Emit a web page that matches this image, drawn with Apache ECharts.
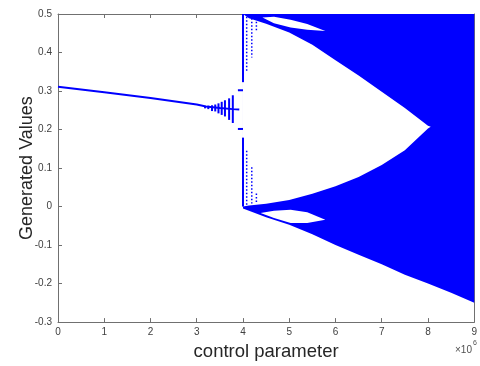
<!DOCTYPE html>
<html>
<head>
<meta charset="utf-8">
<script src="https://cdn.jsdelivr.net/npm/echarts@6/dist/echarts.min.js"></script>
<style>
html, body { margin: 0; padding: 0; background: #ffffff; }
#main { width: 480px; height: 366px; }
</style>
</head>
<body>
<div id="main"></div>
<script>
// bifurcation diagram, x values are in units of 1e6
var chart = echarts.init(document.getElementById("main"));

// stable branch (single fixed point)
var stableX = [0, 1, 2, 3, 3.2, 3.5, 3.78, 3.92];
var stableY = [0.311, 0.297, 0.282, 0.265, 0.260, 0.256, 0.253, 0.252];

// growing oscillation just before x=4
var oscX    = [3.18, 3.25, 3.33, 3.40, 3.47, 3.54, 3.61, 3.70, 3.78];
var oscHigh = [0.261, 0.262, 0.263, 0.265, 0.268, 0.272, 0.276, 0.281, 0.289];
var oscLow  = [0.255, 0.253, 0.248, 0.247, 0.242, 0.238, 0.234, 0.225, 0.217];

// two short dashes at the period-2 split
var dashX0 = [3.89, 3.89];
var dashX1 = [4.0, 4.0];
var dashY  = [0.302, 0.2015];

// solid vertical lines at x=4
var vlineX   = [4.0, 4.0];
var vlineTop = [0.5, 0.179];
var vlineBot = [0.323, 0.0];

// dotted columns right after x=4
var dotX   = [4.08, 4.19, 4.29, 4.08, 4.19, 4.29];
var dotTop = [0.493, 0.489, 0.480, 0.145, 0.102, 0.034];
var dotBot = [0.349, 0.387, 0.455, 0.0, 0.008, 0.008];

// chaotic band: from floor up to the top of the axis
var bandX     = [4.0, 4.5, 5.0, 5.5, 6.0, 6.5, 7.0, 7.5, 8.0, 8.5, 9.0];
var bandFloor = [-0.005, -0.028, -0.047, -0.072, -0.100, -0.125, -0.150, -0.177, -0.200, -0.224, -0.250];
var bandCeil  = [0.5, 0.5, 0.5, 0.5, 0.5, 0.5, 0.5, 0.5, 0.5, 0.5, 0.5];

// empty lens inside the band
var gapX   = [4.0, 4.13, 4.5, 5.0, 5.5, 6.0, 6.5, 7.0, 7.5, 8.0, 8.06];
var gapTop = [0.5, 0.489, 0.475, 0.452, 0.420, 0.380, 0.340, 0.298, 0.256, 0.210, 0.207];
var gapBot = [0.0, 0.003, 0.007, 0.017, 0.033, 0.053, 0.077, 0.108, 0.146, 0.203, 0.207];

// small empty islands (upper and lower)
var eyeUpX   = [4.42, 4.67, 5.03, 5.39, 5.78];
var eyeUpTop = [0.491, 0.493, 0.485, 0.474, 0.456];
var eyeUpBot = [0.491, 0.476, 0.465, 0.459, 0.456];
var eyeLoX   = [4.38, 4.67, 5.03, 5.39, 5.78];
var eyeLoTop = [-0.017, -0.011, -0.008, -0.015, -0.034];
var eyeLoBot = [-0.017, -0.030, -0.043, -0.043, -0.034];

var BLUE = "#0000ff";
var FONT = "Liberation Sans, Arial, Helvetica, sans-serif";

// a filled area between two curves, drawn through the axis scales
function region(xs, up, low, fill, z) {
  return {
    type: "custom",
    z: z,
    silent: true,
    clip: true,
    data: [[xs[0], up[0]]],
    renderItem: function (params, api) {
      var pts = [];
      for (var i = 0; i < xs.length; i++) pts.push(api.coord([xs[i], up[i]]));
      for (var j = xs.length - 1; j >= 0; j--) pts.push(api.coord([xs[j], low[j]]));
      return { type: "polygon", shape: { points: pts }, style: { fill: fill } };
    }
  };
}

// straight segments [x1, y1, x2, y2]
function segments(data, width, dash, z) {
  return {
    type: "custom",
    z: z,
    silent: true,
    clip: true,
    data: data,
    encode: { x: [0, 2], y: [1, 3] },
    renderItem: function (params, api) {
      var p1 = api.coord([api.value(0), api.value(1)]);
      var p2 = api.coord([api.value(2), api.value(3)]);
      var st = { stroke: BLUE, lineWidth: width };
      if (dash) st.lineDash = dash;
      return { type: "line", shape: { x1: p1[0], y1: p1[1], x2: p2[0], y2: p2[1] }, style: st };
    }
  };
}

var oscData = oscX.map(function (x, i) { return [x, oscLow[i], x, oscHigh[i]]; });
var dashData = dashY.map(function (y, i) { return [dashX0[i], y, dashX1[i], y]; });
var vlineData = vlineX.map(function (x, i) { return [x, vlineTop[i], x, vlineBot[i]]; });
var dotData = dotX.map(function (x, i) { return [x, dotTop[i], x, dotBot[i]]; });

var axisCommon = {
  type: "value",
  axisLine: { show: true, onZero: false, lineStyle: { color: "#707070", width: 1 } },
  axisTick: { show: true, inside: true, length: 4, lineStyle: { color: "#707070" } },
  splitLine: { show: false }
};

var option = {
  animation: false,
  backgroundColor: "#ffffff",
  grid: { left: 58, right: 4, top: 14, bottom: 39, show: false },
  xAxis: [
    Object.assign({}, axisCommon, {
      min: 0, max: 9, interval: 1, position: "bottom",
      axisLabel: { color: "#404040", fontSize: 10, fontFamily: FONT, margin: 5 },
      name: "control parameter",
      nameLocation: "middle",
      nameGap: 19,
      nameTextStyle: { color: "#262626", fontSize: 18.5, fontFamily: FONT }
    }),
    Object.assign({}, axisCommon, {
      min: 0, max: 9, interval: 1, position: "top",
      axisLabel: { show: false }
    })
  ],
  yAxis: [
    Object.assign({}, axisCommon, {
      min: -0.3, max: 0.5, interval: 0.1, position: "left",
      axisLabel: { color: "#404040", fontSize: 10, fontFamily: FONT, margin: 6 },
      name: "Generated Values",
      nameLocation: "middle",
      nameGap: 22,
      nameMoveOverlap: false,
      nameTextStyle: { color: "#262626", fontSize: 18, fontFamily: FONT }
    }),
    Object.assign({}, axisCommon, {
      min: -0.3, max: 0.5, interval: 0.1, position: "right",
      axisLabel: { show: false }
    })
  ],
  graphic: [
    { type: "text", left: 455, top: 345, style: { text: "×10", fontSize: 10, fontFamily: FONT, fill: "#505050" } },
    { type: "text", left: 473, top: 340, style: { text: "6", fontSize: 7, fontFamily: FONT, fill: "#505050" } }
  ],
  series: [
    region(bandX, bandCeil, bandFloor, BLUE, 1),
    region(gapX, gapTop, gapBot, "#ffffff", 2),
    region(eyeUpX, eyeUpTop, eyeUpBot, "#ffffff", 2),
    region(eyeLoX, eyeLoTop, eyeLoBot, "#ffffff", 2),
    {
      type: "line",
      z: 3,
      silent: true,
      symbol: "none",
      data: stableX.map(function (x, i) { return [x, stableY[i]]; }),
      lineStyle: { color: BLUE, width: 2 }
    },
    segments(oscData, 2, null, 3),
    segments(dashData, 2, null, 3),
    segments(vlineData, 2, null, 3),
    segments(dotData, 1.5, [1.5, 2], 3)
  ]
};

chart.setOption(option);
window.addEventListener("resize", function () {
  chart.resize();
});
</script>
</body>
</html>
